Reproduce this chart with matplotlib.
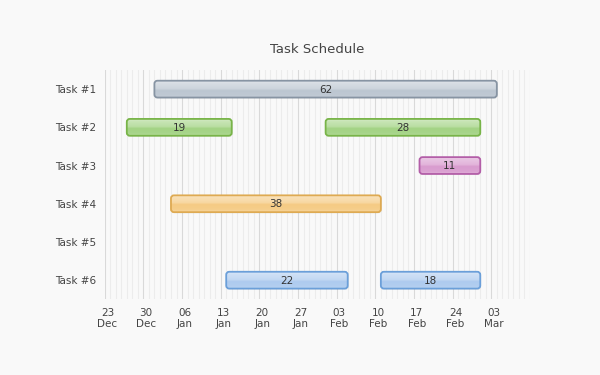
import numpy as np
import matplotlib.pyplot as plt
import matplotlib.dates as mdates
from matplotlib.colors import to_rgb
from matplotlib.patches import FancyBboxPatch
from datetime import datetime, timedelta

# data
tasks = ['Task #1', 'Task #2', 'Task #3', 'Task #4', 'Task #5', 'Task #6']
seg_task = [0, 1, 1, 2, 3, 5, 5]
seg_start = ['2013-01-01', '2012-12-27', '2013-02-01', '2013-02-18', '2013-01-04', '2013-01-14', '2013-02-11']
seg_end = ['2013-03-04', '2013-01-15', '2013-03-01', '2013-03-01', '2013-02-11', '2013-02-05', '2013-03-01']

fills = ['#bcc6d1', '#a3d384', '#d99ccf', '#f5cb84', '#f0f0f0', '#aecbef']
edges = ['#8794a3', '#78b448', '#b35ea8', '#deaa52', '#cccccc', '#6b9fd9']

bg = '#f9f9f9'
fig = plt.figure(figsize=(6, 3.75), dpi=100, facecolor=bg)
ax = fig.add_axes([0.1745, 0.2019, 0.7088, 0.6114], facecolor=bg)

x0 = datetime(2012, 12, 23)
x1 = datetime(2013, 3, 10)
ax.set_xlim(mdates.date2num(x0), mdates.date2num(x1))
ax.set_ylim(5.5, -0.5)

# grid: daily minor lines, weekly major lines
d = x0
while d <= x1:
    wk = (d - x0).days % 7 == 0
    ax.axvline(mdates.date2num(d), color='#d9d9d9' if wk else '#ececec', lw=0.8, zorder=0)
    d += timedelta(days=1)

# tick labels (centred on the day)
weeks = [x0 + timedelta(days=7 * i) for i in range(11)]
ax.set_xticks([mdates.date2num(w) + 0.5 for w in weeks])
ax.set_xticklabels([w.strftime('%d\n%b') for w in weeks], fontsize=7.5, color='#444444', linespacing=1.2)
ax.set_yticks(range(len(tasks)))
ax.set_yticklabels(tasks, fontsize=7.5, color='#444444')
ax.tick_params(length=0, pad=6)
for s in ax.spines.values():
    s.set_visible(False)

# vertical gloss profile (amount of white mixed in, top -> bottom)
prof = np.interp(np.linspace(0, 1, 40), [0, 0.12, 0.45, 0.55, 0.85, 1], [0.55, 0.4, 0.25, 0.0, 0.05, 0.2])

h = 0.44
for t, s, e in zip(seg_task, seg_start, seg_end):
    a = mdates.date2num(datetime.strptime(s, '%Y-%m-%d'))
    b = mdates.date2num(datetime.strptime(e, '%Y-%m-%d'))
    ax.add_patch(FancyBboxPatch((a + 0.15, t - h / 2 + 0.03), b - a, h,
                                boxstyle='round,pad=0,rounding_size=0.55', mutation_aspect=0.145,
                                fc='#000000', ec='none', alpha=0.05, zorder=2))
    bar = FancyBboxPatch((a, t - h / 2), b - a, h,
                         boxstyle='round,pad=0,rounding_size=0.55', mutation_aspect=0.145,
                         fc=fills[t], ec='none', zorder=3)
    ax.add_patch(bar)
    c = np.array(to_rgb(fills[t]))
    img = c[None, None, :] * (1 - prof[:, None, None]) + prof[:, None, None]
    im = ax.imshow(img, extent=(a, b, t + h / 2, t - h / 2), aspect='auto',
                   interpolation='bilinear', zorder=3.5)
    im.set_clip_path(bar)
    ax.add_patch(FancyBboxPatch((a, t - h / 2), b - a, h,
                                boxstyle='round,pad=0,rounding_size=0.55', mutation_aspect=0.145,
                                fc='none', ec=edges[t], lw=1.3, zorder=4))
    ax.text((a + b) / 2, t + 0.01, str(int(round(b - a))), ha='center', va='center',
            fontsize=7.5, color='#333333', zorder=5)

ax.set_xlim(mdates.date2num(x0), mdates.date2num(x1))
ax.set_ylim(5.5, -0.5)

fig.text(0.528, 0.868, 'Task Schedule', ha='center', va='center', fontsize=9.5, color='#444444')

plt.savefig('out.png', dpi=100, facecolor=bg)
